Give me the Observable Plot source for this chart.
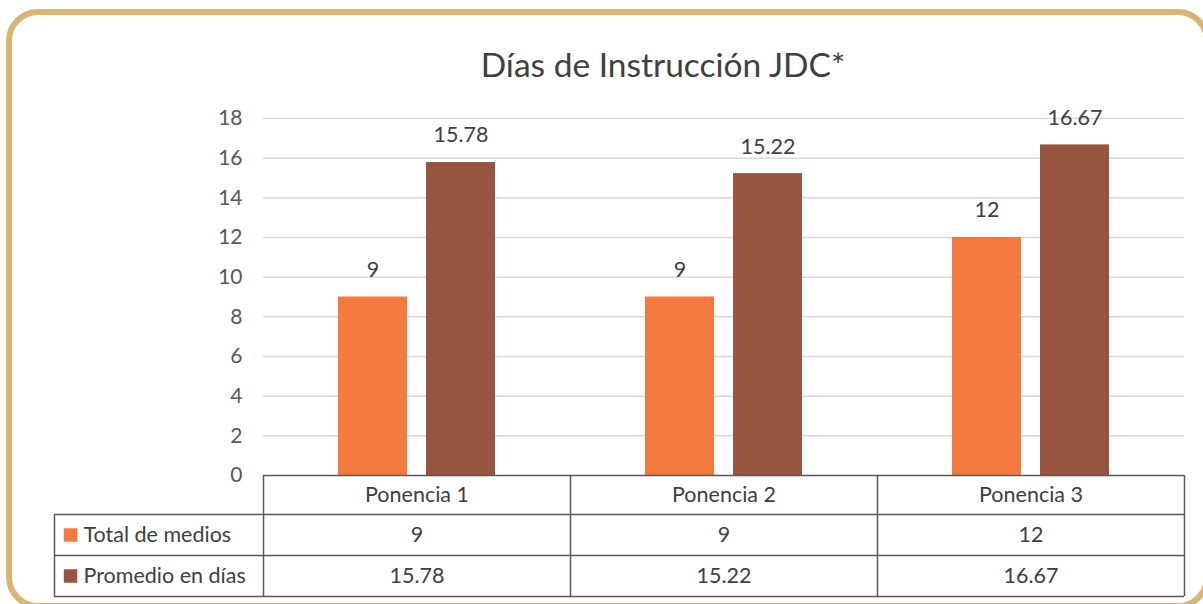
<!DOCTYPE html>
<html>
<head>
<meta charset="utf-8">
<script src="https://cdn.jsdelivr.net/npm/d3@7"></script>
<script src="https://cdn.jsdelivr.net/npm/@observablehq/plot@0.6"></script>
<style>
  html, body { margin: 0; padding: 0; background: #ffffff; overflow: hidden; }
  #wrap { position: relative; width: 1203px; height: 604px; overflow: hidden; font-family: Lato, sans-serif; }
  #title { height: 90px; width: 1203px; position: relative; }
  #title span { position: absolute; left: 663px; top: 44px; transform: translateX(-50%); white-space: nowrap;
    font-size: 33.5px; color: #404040; line-height: 40px; }
  #border { position: absolute; left: 6px; top: 9px; width: 1204px; height: 600px; box-sizing: border-box;
    border: 6px solid #D9B574; border-radius: 32px; pointer-events: none; }
  svg { display: block; }
</style>
</head>
<body>
<div id="wrap">
  <div id="title"><span>Días de Instrucción JDC*</span></div>
  <div id="chart"></div>
  <div id="border"></div>
</div>
<script>
// ---- data ----
const categories = ["Ponencia 1", "Ponencia 2", "Ponencia 3"];
const series = ["Total de medios", "Promedio en días"];
const totalMedios = [9, 9, 12];
const promedioDias = [15.78, 15.22, 16.67];
const yTicks = [0, 2, 4, 6, 8, 10, 12, 14, 16, 18];
const colors = ["#F47A3F", "#97543E"];

// ---- layout ----
const W = 1203, H = 514, mTop = 28, mBottom = 129, mLeft = 263, mRight = 19;
const frameH = H - mTop - mBottom;
const step = (W - mLeft - mRight) / categories.length;
const fmt = v => String(v);
const font = "Lato, sans-serif";

const rows = categories.map((c, i) => ({category: c, total: totalMedios[i], promedio: promedioDias[i]}));
const totals = rows.map(r => ({category: r.category, serie: series[0], value: r.total}));
const proms = rows.map(r => ({category: r.category, serie: series[1], value: r.promedio}));

const lineStyle = {stroke: "#5a5a5a", strokeWidth: 1.5};
const tText = {fontSize: 21.5, fill: "#404040", fontFamily: font, lineAnchor: "middle"};

const plot = Plot.plot({
  width: W, height: H,
  marginTop: mTop, marginBottom: mBottom, marginLeft: mLeft, marginRight: mRight,
  style: {fontFamily: font, background: "transparent", overflow: "visible"},
  x: {type: "band", domain: categories, padding: 0, axis: null},
  y: {domain: [0, 18], axis: null},
  color: {domain: series, range: colors},
  marks: [
    Plot.gridY(yTicks.filter(t => t > 0), {stroke: "#D9D9D9", strokeOpacity: 1, strokeWidth: 1.5}),
    Plot.axisY(yTicks, {tickSize: 0, tickPadding: 21, fontSize: 21, fill: "#595959", label: null, fontFamily: font}),
    Plot.barY(totals, {x: "category", y: "value", fill: "serie", insetLeft: 75, insetRight: 163}),
    Plot.barY(proms, {x: "category", y: "value", fill: "serie", insetLeft: 163, insetRight: 75}),
    Plot.text(totals, {x: "category", y: "value", text: d => fmt(d.value), dx: -44, dy: -27, ...tText}),
    Plot.text(proms, {x: "category", y: "value", text: d => fmt(d.value), dx: 44, dy: -27, ...tText}),
    // table: horizontal lines
    Plot.ruleY([0], {...lineStyle}),
    Plot.ruleY([0], {dy: 39, insetLeft: -209, ...lineStyle}),
    Plot.ruleY([0], {dy: 80, insetLeft: -209, ...lineStyle}),
    Plot.ruleY([0], {dy: 121, insetLeft: -209, ...lineStyle}),
    // table: vertical lines
    Plot.ruleX(categories, {x: d => d, dx: -step / 2, insetTop: frameH, insetBottom: -121, ...lineStyle}),
    Plot.ruleX([categories[categories.length - 1]], {x: d => d, dx: step / 2, insetTop: frameH, insetBottom: -121, ...lineStyle}),
    Plot.ruleX([categories[0]], {x: d => d, dx: -step / 2 - 209, insetTop: frameH + 39, insetBottom: -121, ...lineStyle}),
    // table: texts
    Plot.text(categories, {x: d => d, frameAnchor: "bottom", dy: 19.5, text: d => d, ...tText}),
    Plot.text(rows, {x: "category", frameAnchor: "bottom", dy: 59.5, text: d => fmt(d.total), ...tText}),
    Plot.text(rows, {x: "category", frameAnchor: "bottom", dy: 100.5, text: d => fmt(d.promedio), ...tText}),
    Plot.dot([series[0]], {frameAnchor: "bottom-left", dx: -193, dy: 59.5, symbol: "square", r: 7.6, fill: d => d, stroke: null}),
    Plot.dot([series[1]], {frameAnchor: "bottom-left", dx: -193, dy: 100.5, symbol: "square", r: 7.6, fill: d => d, stroke: null}),
    Plot.text([series[0]], {frameAnchor: "bottom-left", dx: -180, dy: 59.5, textAnchor: "start", text: d => d, ...tText}),
    Plot.text([series[1]], {frameAnchor: "bottom-left", dx: -180, dy: 100.5, textAnchor: "start", text: d => d, ...tText})
  ]
});
document.getElementById("chart").appendChild(plot);
</script>
</body>
</html>
